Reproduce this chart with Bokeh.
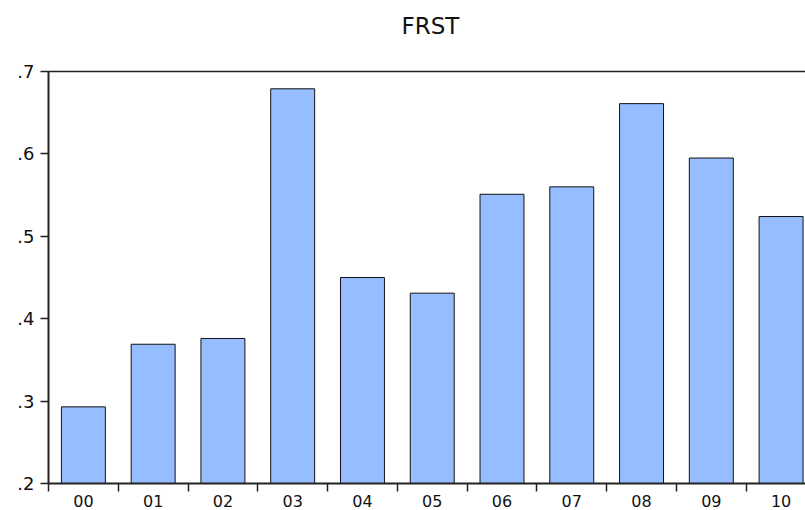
from bokeh.plotting import figure
from bokeh.models import (Range1d, FixedTicker, CustomJSTickFormatter, LinearAxis,
                          ColumnDataSource, Title)
from bokeh.embed import file_html
from bokeh.resources import INLINE

# ---- data ----
years = ["00", "01", "02", "03", "04", "05", "06", "07", "08", "09", "10"]
frst = [0.293, 0.369, 0.376, 0.679, 0.450, 0.431, 0.551, 0.560, 0.661, 0.595, 0.524]
y_ticks = [0.2, 0.3, 0.4, 0.5, 0.6, 0.7]
title_text = "FRST"

source = ColumnDataSource(data=dict(x=list(range(len(years))), frst=frst, year=years))

FONT = "DejaVu Sans"

p = figure(
    frame_width=757, frame_height=412,
    min_border_left=48, min_border_right=0, min_border_top=71, min_border_bottom=27,
    x_range=Range1d(-0.5, 10.35), y_range=Range1d(0.2, 0.7),
    output_backend="svg", toolbar_location=None,
    x_axis_type=None, y_axis_type=None,
)
p.outline_line_color = None
p.xgrid.visible = False
p.ygrid.visible = False
p.background_fill_color = "white"
p.border_fill_color = "white"

p.vbar(x="x", top="frst", width=0.63, bottom=0, source=source,
       fill_color="#96BDFF", line_color="#111111", line_width=1)

# left axis
yax = LinearAxis(
    ticker=FixedTicker(ticks=y_ticks, minor_ticks=[]),
    formatter=CustomJSTickFormatter(code="return tick.toFixed(1).replace(/^0/, '');"),
)
yax.axis_line_width = 2
yax.axis_line_color = "#222222"
yax.major_tick_in = 0
yax.major_tick_out = 8
yax.major_tick_line_color = "#222222"
yax.major_tick_line_width = 1.5
yax.major_label_text_font = FONT
yax.major_label_text_font_size = "18px"
yax.major_label_text_color = "#111111"
yax.major_label_standoff = 6
p.add_layout(yax, "left")

# bottom axis
xax = LinearAxis(
    ticker=FixedTicker(ticks=list(range(len(years))),
                       minor_ticks=[i - 0.5 for i in range(len(years) + 1)]),
    formatter=CustomJSTickFormatter(args=dict(labels=years),
                                    code="return labels[Math.round(tick)];"),
)
xax.axis_line_width = 2
xax.axis_line_color = "#222222"
xax.major_tick_line_color = None
xax.major_tick_in = 0
xax.major_tick_out = 0
xax.minor_tick_in = 0
xax.minor_tick_out = 8
xax.minor_tick_line_color = "#222222"
xax.minor_tick_line_width = 1.5
xax.major_label_text_font = FONT
xax.major_label_text_font_size = "16px"
xax.major_label_text_color = "#111111"
xax.major_label_standoff = 3
p.add_layout(xax, "below")

# top border line (its invisible tick length sets the gap below the title)
tax = LinearAxis(ticker=FixedTicker(ticks=[0], minor_ticks=[]),
                 formatter=CustomJSTickFormatter(code="return '';"))
tax.axis_line_width = 1.5
tax.axis_line_color = "#222222"
tax.major_tick_line_color = None
tax.minor_tick_line_color = None
tax.major_tick_in = 0
tax.major_tick_out = 30
tax.minor_tick_in = 0
tax.minor_tick_out = 0
tax.major_label_standoff = 0
tax.major_label_text_font_size = "0px"
p.add_layout(tax, "above")

title = Title(text=title_text, text_font=FONT, text_font_size="23px",
              text_font_style="normal", text_color="#111111",
              align="left", offset=353, standoff=6, vertical_align="bottom")
p.add_layout(title, "above")

open("out.html", "w").write(file_html(p, INLINE))
